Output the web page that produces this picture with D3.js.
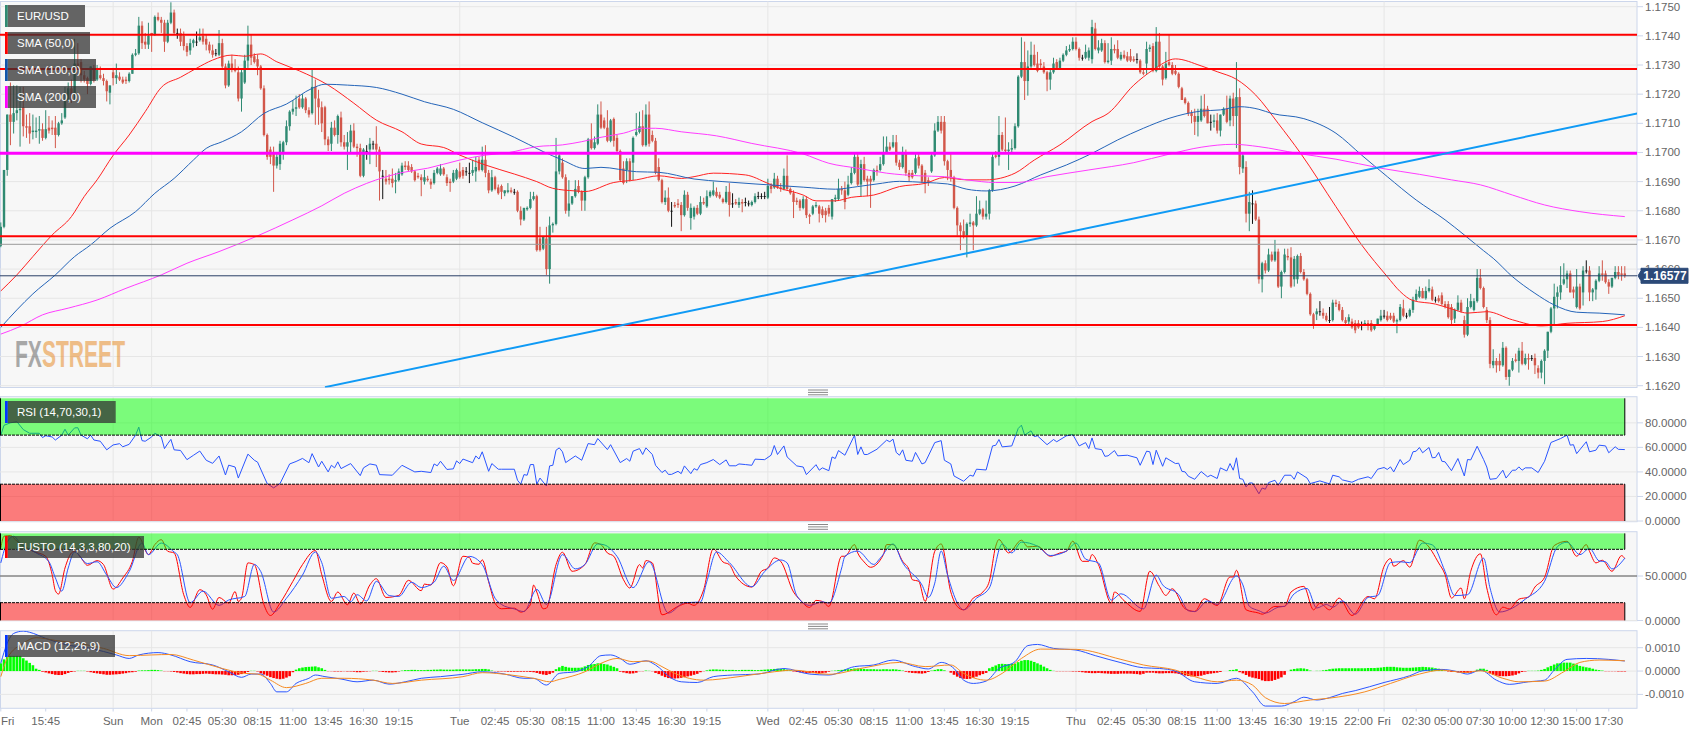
<!DOCTYPE html>
<html><head><meta charset="utf-8">
<script src="https://cdnjs.cloudflare.com/ajax/libs/d3/7.8.5/d3.min.js"></script>
<style>html,body{margin:0;padding:0;background:#fff;overflow:hidden}svg{display:block}text{font-family:"Liberation Sans",Arial,sans-serif}</style>
</head><body><svg id="c" width="1707" height="734"></svg>
<script>
// prices are pips above 1.1600; candles are [open, high, low, close]
const BASE_PRICE = 1.16;
const candlesFriFirst = [[68,76,67.5,74.5],[74.5,94,74,94],[94,113,92,113],[113,124,102.5,110.5],[110.5,123,106.5,113.5],[113.5,123,111,114.5],[114.5,122.5,102,115],[115.5,122.5,105.5,109],[109,113,105,108.5],[109,113.5,103,106.5],[107,113,104.5,107.5],[107,112,105,107.5],[107.5,112.5,103,108],[108,110,104,105],[105,114.5,104.5,108],[108.5,112.5,106.5,107.5],[108.5,111,106,108],[108.5,112.5,101.5,106],[106,110.5,105.5,110],[110,113.5,109.5,111],[112,122.5,111.5,118],[118,124,117.5,122],[122,125,117,118],[120,139,118,130.5],[130.5,137.5,128.5,129],[131,132,124,126.5],[126.5,128,124,125],[125.5,126,120,123.5],[123.5,129.5,123,129.5],[129,130,124,125],[125,130,124.5,129],[126.5,129.5,125,125.5],[125.5,127,123,124.5],[124.5,125,117.5,121],[120.5,123,116.5,123]];
const candlesSun = [[127.5,129,123,125.5],[125.5,130.5,123.5,126.5],[126,127.5,124.5,125],[125,126,123.5,124],[125,126,123.5,124.5],[124.5,127.5,124,127],[127,134,127,133.5],[133.5,135.5,133,134],[134,146.5,133.5,143.5],[143.5,145,135.5,137.5],[138,141,135.5,137],[137,144.5,135.5,140]];
const candlesMon = [[141,141,134.5,140.5],[140.5,147,140,146.5],[146.5,148,145,145.5],[145.5,146.5,141,144.5],[144.5,145.5,134.5,138],[138,145.5,137.5,144.5],[144.5,151.5,144,148],[148,149,140.5,141],[141,142.5,139,141],[141,142.5,136.5,138],[140,141.5,135,136.5],[136.5,137.5,133,134.5],[135,139,133.5,137.5],[137.5,139,136,138.5],[138,141.5,136.5,138],[138.5,142.5,138,139.5],[140,142.5,137,138],[139,140.5,135,137],[137,138,134,135],[135,137,132.5,133.5],[134,135.5,133,134],[133.5,142,133,137.5],[137.5,139,128.5,129.5],[129.5,130.5,122,123],[123,131.5,122.5,130.5],[130.5,133.5,127.5,128.5],[129,132,127.5,128],[127.5,129.5,117.5,118.5],[118.5,128.5,114,127.5],[124,133.5,123.5,131.5],[131.5,143.5,129,137],[137,140.5,130,132.5],[133,134,130.5,131],[132,133.5,126.5,129.5],[129.5,130,121.5,122],[122,123,105.5,106],[106,106.5,97.5,98.5],[101,102,96,98.5],[100,102,86.5,95.5],[95.5,99.5,94.5,98.5],[96,104,94,103],[100,104,97.5,103.5],[103.5,111,102.5,109],[109,114.5,107.5,114],[114,118,113,115],[115,119.5,112.5,115.5],[118.5,120,115,115.5],[115.5,120,115,118.5],[118.5,119,113.5,114.5],[114.5,115.5,112,113],[113.5,128.5,113,122.5],[122.5,125,109.5,118.5],[118.5,121.5,109.5,115.5],[115.5,117.5,107,110],[115.5,116,102.5,104.5],[104.5,105.5,100.5,102.5],[103,110.5,100.5,108.5],[108.5,111,105.5,106],[106,113,103,112.5],[112,114,102,103.5],[103.5,106,101,102],[102,107,94,103.5],[103.5,109.5,100,107.5],[107.5,110,101.5,102],[102,103,98.5,101.5],[101.5,103,91.5,92],[92,101.5,91.5,101],[100.5,102.5,97.5,100.5],[101,105,96,103],[103,104,101,103],[103,109,95,101],[101,102,83.5,93.5],[92,94,84,92],[91,94,89,90],[91,92.5,89,90.5],[91,94.5,88,89.5],[90,93,86,90.5],[90.5,94.5,90,93.5],
[92.5,96.5,92,95.5],[95.5,97,94,95],[95.5,97,93.5,94],[95,96,93,93.5],[93.5,94,90,90.5],[92,93,91,91.5],[91.5,92.5,85,90.5],[90,94,89,91.5],[91,92,90,90.5],[90,91,87.5,89],[89.5,94,89,93],[93,95,92.5,94.5],[92.5,96,92,94.5],[94.5,95,92,92.5],[91.5,92.5,88.5,89.5],[90,91,86.5,89.5],[90,94,89.5,93],[91,94.5,90.5,94]];
const candlesTue = [[93.5,96.5,91,91.5],[94,95,91,92],[93.5,95,92,93.5],[93,96.5,89.5,93],[93,97.5,92,94],[93.5,98.5,90,95],[97.5,98.5,93.5,94],[94,102,93.5,97.5],[97.5,102.5,91.5,93],[93,94,86,87],[87,94,86.5,91.5],[91.5,92,87,87.5],[88,89,85.5,86],[88.5,89,84,86.5],[86,87,85,87],[86.5,89.5,86,87],[87,88,86,86.5],[86.5,87.5,85.5,86.5],[86.5,87,79.5,80],[80,81.5,75,77],[77,81,76.5,81],[80.5,81.5,80,81],[81,86.5,80.5,84],[84,86.5,83.5,85],[85,85.5,66,66.5],[70.5,74.5,66,66.5],[67,71,66.5,71],[70.5,74.5,58,60],[60,78,55,75],[75,76,72.5,75.5],[75.5,105,75,93.5],[93.5,100,92.5,99],[96.5,98,91,91.5],[91.5,92.5,79,80],[80,90.5,78,82.5],[82.5,85,82,85],[85,90.5,84.5,87.5],[88.5,90.5,86,86.5],[86.5,87,80,83.5],[83.5,92,80,91.5],[91.5,105,91,104.5],[104.5,110,101,101.5],[101.5,105.5,101,103.5],[103,116.5,102.5,113],[113,117.5,108,108.5],[111,112,108,108.5],[108.5,114.5,103.5,104],[104,111.5,103.5,111],[111.5,112,102,104],[105,106,100,100.5],[100.5,101,90,90.5],[94.5,97,89,89.5],[94,98,89.5,97],[97,98,90,90.5],[96.5,105.5,90.5,105],[106,113.5,105.5,107],[107,114,106.5,109],[109,114.5,102,102.5],[102.5,116.5,102,113],[113,117.5,102,103],[106,107.5,103.5,104],[104,105,92.5,93],[95,98,90,90.5],[90.5,91,82.5,83],[83,87,82,84.5],[84.5,88,79.5,80],[80,83,74.5,80],[82,83,81,81.5],[82.5,84,81,82],[82,83,73,78.5],[78.5,87,78,85.5],[85.5,86.5,80,81],[77.5,82.5,73.5,81],[78,81.5,77,81],[81,82,78.5,79],[79,85,78.5,83],[83,84.5,82,82.5],[81.5,87,81,85],[85,87,84.5,86.5],[85.5,90,85,87],[86.5,88,84.5,85],[85.5,86.5,84,84.5],[84,84.5,82.5,83],[83,88.5,82.5,86.5],[86.5,89.5,78,82],[82.5,86,81,82.5],[83,84,82,82.5],[82,84.5,81,83],[83,84,79.5,82.5],[83,84.5,81.5,83],[82.5,83.5,81.5,82.5],[82,83.5,81.5,83],[83,86,82.5,85],[85,86.5,84,85],[85,86,84,85],[85,86.5,84,85]];
const candlesWed = [[84.5,91,84,88.5],[88.5,89.5,86,87.5],[88,93,87.5,91],[91,92,87.5,88],[88,89.5,86.5,87.5],[87.5,94.5,87,92],[92,99,87,87.5],[87.5,88,85.5,86],[86,87,77.5,83],[83.5,84.5,82,83],[83.5,84,80,81],
[81,85,80.5,84],[84,85,77.5,78.5],[78.5,79,75.5,78],[79,82,78.5,81.5],[81.5,83,81,82],[81.5,82,76,79],[80.5,81.5,77.5,78.5],[80,81,76,78.5],[81,82,78,79],[78,84,77,84],[84,85.5,83,84.5],[84,91,83.5,87.5],[87.5,88.5,85.5,87],[87,90,80.5,83],[85.5,92,85,89],[89.5,95,89,93],[93,100,92.5,98.5],[98.5,100,88.5,89],[89,97.5,85,96],[96,98.5,90,90.5],[91,92,85,90],[91,92,81,90],[90.5,94.5,90,94],[94,95.5,92,93.5],[94,98.5,93.5,96],[96,105.5,95.5,100],[100,105.5,99.5,102],[102,103.5,100.5,101],[102,106,101.5,103.5],[103.5,106,95.5,96.5],[96.5,97.5,94,95],[95,102,94.5,100],[99.5,101,92,93],[93,94,90,91.5],[93,94,91,91.5],[93,100,92.5,98],[98.5,99.5,94.5,95.5],[95.5,96,89.5,90],[93,94,86,89.5],[90.5,91.5,88.5,89.5],[93.5,100,93,99],[99,110,98.5,107.5],[107.5,112.5,107,110.5],[110.5,112.5,106.5,107.5],[110.5,112.5,95.5,97],[97,97.5,90.5,94],[94,99.5,90,91.5],[91.5,92,80.5,81],[81,81.5,71.5,75],[75,76,66.5,73],[73,77,70.5,71.5],[71.5,76,64,75.5],[75.5,79,74.5,76],[76,76.5,66.5,75],[75,85,74.5,79],[79,83.5,78.5,80.5],[80.5,81,77,78],[78,83.5,77,79],[79,87.5,77,87],[87,100,86.5,98.5],[99,100.5,98,98.5],[98.5,112.5,95.5,106],[106,107,100.5,101],[101,112,100,100.5],[100.5,103.5,94,101],[101,104.5,99.5,101.5],[101.5,110,101,109],[109,126.5,108.5,126],[126,139.5,125.5,131],[131,138,118,124.5],[124.5,135,119.5,129.5],[129.5,138,129,133.5],[133.5,137,129.5,130],[130.5,134.5,127.5,128],[130.5,132,129,130],[129.5,131,127,127.5],[127.5,128,121,125],[125,128.5,121.5,127.5],[127.5,132.5,127,130.5],[131,132,128.5,129],[129,132.5,128.5,131.5],[131.5,134,131,133.5],[133.5,136.5,133,135],[135,137,134.5,135.5],[135.5,139.5,135,138]];
const candlesThu = [[138,139.5,135,135.5],[135.5,136,131.5,132.5],[132.5,133.5,131.5,132.5],[132.5,137,132,134.5],[132.5,136,131.5,135],[132,145.5,130.5,143],[142.5,144.5,135,135.5],[135,138.5,134,136],[135,139,134.5,137.5],[137.5,138.5,130.5,131],[131,137.5,130.5,131.5],[131.5,139.5,130,135.5],[135.5,137,134,135],[135.5,138.5,132,132.5],[132,134.5,131.5,133.5],[133.5,135,132,132.5],[133,134.5,131,131.5],[133,135.5,131,131.5],[132,133,131,131.5],[132,134,130.5,132],[131.5,132,127,127.5],[127.5,128.5,126.5,127],[130.5,138,127,135.5],[135.5,137,134.5,136],[136.5,137.5,127.5,128],[128,143,127.5,138],[138,141,129,129.5],[129.5,130,123,125],[125.5,134.5,125,130.5],[131,140.5,129.5,130],[130,131,126.5,127],[128,130,126.5,127],[127,127.5,122,122.5],[122,122.5,118,118],[118.5,119,116.5,117],[117,117.5,112.5,113.5],[113.5,114.5,110,112.5],[112.5,115,106,110.5],[110.5,115,105.5,112.5],
[111,119.5,110.5,115],[115,120,112,112.5],[115,116,110,110],[110.5,113,107.5,110.5],[110.5,113,108.5,111],[111,113.5,106.5,107.5],[107.5,113,105.5,113],[113,115.5,112.5,115],[115,119.5,110,110.5],[111,119.5,109,118.5],[118.5,120.5,109,112.5],[112.5,131,101.5,119],[119,122,92.5,95],[94.5,99.5,93,99],[95,97,76,79],[79,86.5,73,83],[82.5,87,75.5,82.5],[82.5,83.5,76.5,77],[77,78,55,56.5],[56.5,62.5,52,62],[62,63,58.5,59.5],[59.5,67,59,65],[65,66,62.5,63],[63,70,62.5,66],[66,67,53.5,54],[54,59.5,50,59],[59,67,58.5,65],[64.5,67,63,64],[64,67.5,53.5,54],[56.5,64.5,54,63.5],[56.5,65,55,64.5],[64.5,65.5,58.5,59],[59,60,56,56.5],[56.5,57,51,51.5],[51.5,52,44,44.5],[44.5,45,39.5,41],[44.5,46.5,42.5,45.5],[45.5,49,44,45.5],[45,46.5,43,44],[44,45,42,42.5],[42.5,47,41.5,42.5],[42.5,49.5,42,48.5],[48.5,49.5,47,48],[48,49,45.5,46],[46,47,42,42.5],[42.5,43.5,41,41.5],[42,44.5,41,43.5],[42,43,39.5,40],[41.5,42.5,38,39],[41.5,42.5,39.5,40],[41,42,39,41],[41,42.5,40.5,41.5],[41.5,42.5,39,40.5],[41.5,42.5,38.5,39],[39.5,41,39,41],[41,43,40.5,43],[42.5,46,42,44]];
const candlesFriLast = [[44,46,43,44],[44,45.5,42,42.5],[44,45,42.5,43],[44,45,41.5,42],[42,43,38,42.5],[42.5,48,42,47],[46.5,49.5,43.5,44],[44,45,43,44],[44,46.5,43.5,46],[46,50.5,45,49.5],[49.5,53,49,51.5],[50.5,54,50,52.5],[52.5,53.5,50,50],[50,54,49.5,52.5],[52.5,56.5,52,53.5],[53,54,49,49.5],[49.5,50.5,48.5,49.5],[50,51,48.5,49],[51,52,47.5,48],[48,49,46.5,47],[48,49,43,43.5],[47,48,40.5,42.5],[43,46.5,41.5,46],[46,51,45.5,48.5],[48.5,49.5,45,45.5],[42.5,44,36.5,37.5],[37.5,50,37,47],[47,51.5,46.5,49],[46,50,45.5,49],[49,60,48.5,57],[57,60,53,53.5],[53.5,54,46.5,47],[46,47,41.5,42.5],[42.5,43.5,26,27.5],
[27,32.5,26,28.5],[28.5,29.5,24.5,27],[28.5,31,25,27],[27,35,26.5,33],[33,33.5,22,23],[23,25.5,20,25.5],[25.5,29.5,25,28.5],[29,31,28,28.5],[28.5,33,24.5,32],[32,35,27,27.5],[27.5,31,27,29.5],[29.5,31,25.5,29],[29.5,30.5,28.5,29.5],[29.5,31,24,27],[26,27,22.5,24.5],[24.5,29,22.5,28.5],[28.5,32.5,20.5,32],[32,38.5,29.5,38.5],[38.5,47,38,46.5],[46.5,55,40.5,50.5],[50.5,54,46.5,52],[52,61,49.5,54.5],[55,62,54.5,56.5],[56.5,59.5,53.5,58.5],[58.5,59.5,52,52],[53,54,50,52],[47,60,46.5,54],[54,55,46,46.5],[52,61,47.5,59.5],[59.5,63,58.5,59.5],[59.5,61,49,52],[52,53.5,49,53],[53,56.5,49.5,56],[56,61,55.5,58.5],[58.5,63,56,58],[58.5,59.5,55,55.5],[55.5,56.5,51.5,54],[54,57,53.5,57],[57,61,56.5,59],[59,61,56.5,58],[58.5,61,56,58],[58.5,61,57,57.7]];

// moving averages, trend line and levels: [bar, pips]
const sma50Points = [[0,52.5],[5,58],[10,64.3],[16,71.7],[22,78],[26,84.9],[30,90.6],[35,99],[40,106],[45,114],[50,122.3],[56,125.8],[61,128.9],[66,131.7],[72,133.4],[76,133],[81,133.8],[86,131.1],[93,128],[102,123.1],[110,116.9],[117,111.1],[125,107.1],[131,102.9],[138,101.7],[143,99.1],[151,95.7],[160,92.6],[167,90],[172,87.7],[179,86.8],[182,86.6],[191,89.7],[198,90.6],[205,92],[212,91.1],[216,91.7],[222,92.9],[232,92.3],[239,89.4],[242,88],[250,85.4],[254,83.4],[260,83.4],[265,84.6],[272,85.4],[280,88.3],[288,89.4],[294,91.4],[301,90.6],[307,90.6],[316,92.9],[322,97.4],[330,102.6],[340,110.6],[345,113.4],[353,123.1],[359,128.3],[366,132.1],[374,129.7],[379,127.7],[385,125.1],[391,119.7],[398,110],[405,99.7],[416,81.4],[424,68.3],[432,57.4],[436,52.3],[440,49.2],[447,48],[453,46],[457,44.9],[463,45.4],[471,42.6],[480,40.5],[488,41.4],[499,42],[506,44]];
const sma100Points = [[0,40],[5,46],[10,51.5],[17,58],[23,64.3],[28,68.3],[34,74],[42,79.7],[48,86],[54,91.1],[60,97.4],[64,101.4],[69,103.7],[75,107.1],[82,113.4],[89,116.6],[97,122],[101,123.4],[108,123.1],[117,122.3],[125,120],[132,117.4],[141,114.8],[150,110.2],[160,105.2],[169,100.3],[175,97.4],[182,94.5],[187,94.9],[198,93.4],[205,93.2],[216,90.9],[225,90],[235,89.2],[250,88.1],[260,87.4],[267,88.3],[273,89.2],[280,90.1],[288,89.7],[295,89.2],[301,87.4],[307,86.8],[316,88.5],[324,92.3],[332,95.7],[340,99.7],[348,104.3],[356,108.3],[364,111.7],[374,114.2],[380,114.6],[386,115.7],[392,114.8],[396,113.4],[406,111.6],[416,106.6],[424,99.1],[432,91.7],[441,83.7],[450,76.9],[456,71.7],[462,66.3],[465,63.7],[471,57.4],[478,51.7],[484,47.7],[491,45.2],[498,44.9],[506,44.3]];
const sma200Points = [[0,37.7],[6,40.3],[13,44.3],[21,46.6],[30,49.4],[39,53.4],[50,58],[58,62],[68,66],[80,71.4],[91,76.9],[100,81.7],[107,86],[114,89.4],[125,93.1],[133,94.6],[143,97.4],[151,99.1],[158,99.9],[167,102],[175,102.6],[181,103.7],[187,105.2],[194,106.6],[200,108.3],[204,108.3],[212,107.1],[223,105.7],[234,103.1],[250,99.5],[258,96.3],[267,94.6],[276,92.9],[286,92],[294,91.7],[301,90.6],[310,89.7],[317,89.7],[326,91.7],[339,94],[353,96.5],[364,99.4],[374,101.8],[384,102.8],[392,102],[404,99.7],[416,97.7],[430,94.6],[442,92.5],[452,90.6],[461,88.9],[471,85.4],[481,82],[492,79.7],[506,78]];
const trendBars = [101,510];
const trendPips = [19.5,113.4];
const redLevels = [1.17404,1.17286,1.16713,1.16408];
const magentaLevel = 1.16997;
const greyLevel = 1.16685;
const lastPrice = 1.16577;
const priceTicks = [1.175,1.174,1.173,1.172,1.171,1.17,1.169,1.168,1.167,1.166,1.165,1.164,1.163,1.162];

// RSI [bar, value]
const rsiPoints = [[0,69.9],[1,78],[3,80],[5,81],[7,74.5],[9,71.5],[12,71.5],[13,68],[14,69.5],[16,68.5],[17,66],[19,70],[20,74.8],[21,70],[23,75.9],[24,76],[25,70],[27,67],[28,70],[29,66],[31,65],[33,58],[35,62],[37,63],[38,60.5],[40,62.5],[42,70],[43,76.5],[44,65.5],[45,65],[47,68.5],[48,71.5],[50,68.5],[51,59],[52,63],[53,66.5],[54,58],[56,57.5],[58,50],[60,53.5],[62,57],[64,49.5],[66,47],[68,53],[70,37.5],[71,45.5],[73,44],[74,35],[77,54.5],[79,49.5],[80,48],[83,30.5],[85,27],[87,30.5],[90,46.5],[92,48.5],[94,51],[96,47.5],[97,54.9],[99,44],[100,48.7],[102,40],[103,45.4],[104,43.3],[105,48.2],[106,42.7],[109,46.8],[112,37],[113,43.3],[115,46.5],[117,45.5],[118,37.8],[122,37.3],[125,45.4],[129,40],[131,40.5],[134,39.5],[135,46.5],[136,45],[137,48.7],[139,42],[141,42.5],[142,49],[143,46.8],[144,50.5],[147,47.5],[148,53],[149,50.5],[150,56.4],[152,40.5],[153,46.8],[155,42.2],[156,42.2],[160,42.2],[161,33.2],[162,30],[163,37.8],[164,37.3],[165,46],[166,46],[167,30],[168,35],[170,28.5],[171,44.9],[172,45.4],[173,57.7],[174,59.6],[175,56.4],[176,47.6],[179,53],[181,49.5],[183,63.1],[185,62.2],[186,67.2],[189,58.2],[190,62.2],[193,47.6],[195,50.9],[196,48.7],[197,56.9],[199,59],[200,54.2],[201,59.6],[203,54.2],[204,45.4],[206,39.5],[207,41.4],[208,38],[209,38],[211,40.5],[212,38.6],[213,44.9],[215,38.6],[216,42.7],[217,41.4],[218,46],[220,47.6],[222,50.1],[224,46],[226,49.8],[227,45],[229,45],[230,46.5],[232,46],[234,45.4],[235,50.4],[238,50],[240,53.6],[241,61.5],[242,54.2],[244,61.2],[245,52.2],[248,44.9],[250,44],[251,37.8],[254,45.9],[255,41.4],[256,43.3],[258,41],[259,52.2],[260,50.9],[261,57.4],[263,53.6],[266,69.9],[267,54.2],[268,60.4],[269,54.2],[270,54.2],[273,58.5],[276,65.9],[277,64.6],[278,66.7],[279,55.9],[280,53.6],[281,58],[282,49.5],[284,48.7],[285,55.9],[287,46.5],[288,47.6],[291,63.9],[293,65.5],[294,49.5],[296,46.5],[297,36.7],[300,32.4],[302,37.3],[303,36.5],[304,42.2],[307,41.6],[309,61.2],[310,61.7],[311,66.4],[312,60.4],[315,61.2],[317,75.4],[318,78.1],[319,70],[321,73.5],[322,68.8],[323,69.4],[326,62.2],[328,66.4],[329,64.6],[332,69.4],[334,70.5],[336,61.2],[338,63.9],[339,59],[340,67.7],[341,59],[343,58.2],[344,52.7],[345,53.1],[347,57.4],[348,53.1],[351,53.6],[354,51.5],[355,45.4],[357,56.9],[358,56.4],[359,46],[360,57.7],[362,44.6],[363,51.5],[366,46.8],[367,47.1],[368,40.5],[369,40],[370,36.5],[372,34],[374,40.3],[376,36],[377,37.3],[379,34.6],[380,43.3],[382,40.8],[383,46.8],[384,41.4],[385,51.5],[386,34.6],[387,34],[388,27.8],[389,31],[390,31],[392,22.2],[393,26.9],[394,25.9],[395,31.3],[397,33.2],[398,29],[400,37.3],[402,37.3],[403,34],[404,40],[407,35],[408,30.5],[411,32.7],[414,30.2],[415,37.3],[417,36],[418,33.5],[421,31.6],[423,34],[426,36],[427,34.6],[429,42.2],[431,43.6],[432,42],[433,44.1],[434,40],[436,50.1],[437,46],[439,49.5],[440,56.4],[441,56.9],[442,59.9],[443,55.6],[445,59.9],[446,51.5],[447,51.8],[448,55.9],[449,48.7],[450,48.2],[452,41],[454,50.9],[456,36.7],[457,50.1],[458,49.8],[460,60.9],[462,50.1],[463,44],[464,34],[466,34.6],[468,41.4],[469,35],[471,41.4],[472,41.4],[473,44.1],[474,41.4],[475,43.3],[477,43.3],[479,39.5],[481,48.7],[483,64],[486,67.2],[488,70],[489,61.8],[490,62.2],[491,54.9],[494,64.6],[495,56.4],[497,57.7],[498,61.8],[500,61.2],[501,55.6],[503,60.5],[504,58.4],[506,58.2]];
const rsiTicks = [80,60,40,20,0];

// Full stochastic [bar, value]
const fustoKPoints = [[0,81.6],[1,94.7],[3,95.5],[5,89.1],[10,77.8],[14,72.2],[16,51.5],[17,33.5],[18,29.7],[20,59],[22,75.9],[23,77.8],[25,70.3],[27,62],[30,67.3],[32,62.8],[35,35.3],[38,47.7],[41,66.5],[43,93.6],[46,74.1],[48,85.3],[50,90.8],[52,77.8],[54,75.9],[57,28.9],[59,14.7],[62,34.6],[64,28.9],[66,12.7],[68,25.9],[71,19.5],[73,32.5],[74,21.4],[75,25.2],[77,64.7],[79,62.8],[82,17.7],[84,5.6],[87,19.5],[91,44],[94,62.8],[98,78.6],[100,51.5],[103,21.4],[105,32],[108,17.7],[110,30.8],[112,18.4],[115,40],[117,47],[120,25.9],[124,28.2],[127,45.1],[131,33.5],[132,40.9],[134,39.8],[137,65],[139,60.2],[141,39],[144,72.2],[146,70.8],[147,64.4],[149,63.2],[150,68.2],[152,43.5],[154,19.5],[156,13.2],[160,13.9],[162,9.4],[165,17.7],[166,39.8],[167,32],[169,13.2],[170,13.9],[173,62.8],[175,76.7],[178,55.3],[182,62.8],[185,87.2],[187,85.3],[189,75.9],[191,72.2],[194,45.9],[196,36.5],[199,62.8],[200,59],[201,67.3],[203,64.7],[206,6.4],[211,15.8],[214,19.5],[216,17],[219,34.6],[222,80.5],[225,65.8],[227,62.8],[229,49.6],[234,37.6],[237,55.3],[239,59],[241,70.3],[243,66.5],[247,32],[249,23.3],[252,14.7],[254,22.6],[256,21.4],[258,15.8],[262,72.2],[263,72.2],[266,85.3],[267,75.9],[269,65.8],[271,59.8],[275,74.1],[276,85.3],[278,85.3],[281,66.5],[283,57.1],[284,45.9],[286,44],[288,21.4],[291,77.8],[293,86],[296,32],[298,15.8],[300,12],[303,25.2],[306,32],[308,44],[310,83.5],[311,91],[314,75.9],[318,90.2],[320,82.7],[323,83.5],[327,72.2],[330,75.9],[332,77.8],[334,89.1],[337,66.5],[339,66.5],[340,74.1],[342,62.8],[346,19.5],[347,32],[350,22.2],[355,10.2],[358,55.3],[361,38.3],[363,28.2],[365,35.7],[369,13.2],[372,10.2],[375,24.4],[379,16.9],[383,48.9],[384,48.9],[385,56.4],[388,12],[392,8.3],[393,7.1],[397,15.8],[400,15.8],[402,32],[406,38.3],[409,12],[411,19.5],[414,12],[417,25.2],[421,5.6],[426,27],[428,24.4],[431,60.9],[433,69.5],[434,60.9],[437,67.3],[439,60],[442,90.2],[444,86.5],[448,64.7],[450,51.5],[452,25.2],[455,36.5],[456,24.4],[458,55.3],[461,74.9],[463,36.5],[466,6.4],[468,15],[470,13],[473,24],[476,26.3],[478,37.6],[481,48.5],[484,84.2],[488,89],[491,72.2],[494,85.3],[495,77.8],[497,64.7],[499,67.7],[502,55.3],[505,72.9],[506,69.5]];
const fustoDPoints = [[0,64.7],[2,88],[4,94.7],[6,87],[11,76],[15,66],[17,48],[19,33],[21,59],[23,77],[27,64],[30,66],[33,51],[36,37],[40,55],[44,87],[46,74],[50,87],[54,77],[55,74],[59,20],[63,33],[68,17],[71,23],[76,27],[79,63],[81,55],[85,9.5],[89,25],[94,51],[98,77],[100,65],[103,25],[107,27],[109,21],[111,29],[114,22],[117,44],[121,28],[124,27],[128,43],[131,37],[135,43],[138,61],[141,45],[146,72],[150,63],[154,25],[156,18],[160,13],[163,10],[167,35],[170,18],[175,74],[179,58],[182,63],[186,86],[188,85],[192,72],[197,37],[202,66],[208,8.3],[213,20],[218,20.7],[220,44],[223,77],[227,65],[234,38],[238,55],[243,68],[245,64.7],[248,28],[252,17],[256,21],[258,19.5],[262,59],[263,72],[267,78],[272,63],[274,70],[278,86],[281,65],[287,40],[289,26],[291,42],[293,78],[295,51],[298,20],[300,12],[304,25],[308,36.5],[312,86],[315,76],[318,88],[323,83.5],[327,73],[332,78],[335,87],[338,69],[342,64.7],[346,23],[349,30],[356,13],[360,51],[362,40],[367,29],[370,11],[372,10],[376,22],[379,18],[385,50],[387,40],[389,16],[392,11],[394,8.3],[398,15],[400,16],[403,30],[407,36],[410,14],[413,18],[415,15],[418,22],[422,7],[426,26],[429,28],[433,65],[436,66],[439,65],[443,87],[446,85],[450,55],[453,28],[457,29],[462,70],[464,36.5],[467,9.5],[471,14],[475,24],[481,44],[485,83],[488,88],[492,74],[495,81],[498,67],[500,66],[502,58],[506,70]];

// MACD, in units of 0.0001: lines are [bar, value]
const macdPoints = [[0,3.3],[2,11.9],[4,16.1],[7,17.1],[9,16.6],[14,14],[20,11.4],[28,9.7],[36,6.9],[40,5.4],[43,6.9],[49,7.9],[53,6.9],[59,4],[66,2.6],[71,-.3],[75,-2.7],[78,-1.3],[81,-1.3],[84,-5.3],[86,-8.9],[89,-8.9],[92,-5.3],[96,-3.1],[98,-1.7],[101,-2.4],[106,-3.4],[111,-4.6],[116,-3.9],[121,-5.6],[126,-4.6],[131,-3.1],[137,-2.4],[144,-1.4],[150,-.3],[157,-1.3],[163,-3.1],[166,-3.1],[170,-6],[174,-1],[179,-.3],[183,1.9],[187,6.6],[190,6.9],[193,5.4],[196,2.9],[201,4.4],[204,2.6],[209,-3.1],[212,-4.6],[217,-4.9],[222,-2.4],[228,-1.7],[236,-1.3],[244,1.1],[252,-1.3],[258,-1.7],[266,1.9],[272,2.6],[278,4.7],[285,1.9],[289,.9],[293,3.7],[297,1.1],[300,-3.9],[303,-5.3],[307,-4.3],[311,1.1],[316,4],[320,10.9],[323,11.4],[328,9.7],[335,9],[341,6.6],[349,3.6],[356,1.4],[361,1.1],[366,0],[372,-4.6],[379,-5.3],[385,-3.1],[390,-8.9],[394,-15],[399,-15],[403,-13.1],[406,-11.2],[410,-12.4],[414,-11.4],[418,-9.6],[422,-8.4],[431,-4.9],[439,-2],[443,.1],[449,.7],[454,-.3],[457,-1.3],[461,.4],[466,-3.9],[470,-5.7],[476,-4.6],[481,-3.9],[484,.4],[488,5],[494,5.4],[501,5],[506,4.3]];
const macdSignalPoints = [[0,-2.4],[2,5.4],[7,11.9],[11,14.3],[17,13.1],[24,11.9],[32,9.7],[40,6.6],[47,6.9],[53,7.1],[60,4.7],[69,1.1],[76,-1],[80,-1.3],[84,-3.9],[89,-7.1],[95,-5.3],[100,-3.1],[107,-3.1],[116,-3.9],[122,-5.3],[131,-3.9],[144,-2.4],[150,-.7],[159,-1.7],[167,-3.4],[171,-4.6],[174,-3.6],[182,-.3],[187,3.3],[192,5.4],[197,4],[202,4.3],[206,1.9],[210,-1],[219,-3.9],[230,-2.4],[241,-.3],[247,.4],[258,-1.4],[269,1.4],[280,3.7],[288,1.9],[296,2.6],[300,-1],[307,-3.9],[312,-1],[318,5.4],[324,9.4],[335,9.3],[349,5],[356,2.6],[366,.4],[372,-2.4],[379,-4.6],[385,-3.9],[390,-6],[394,-11.4],[400,-13.9],[408,-12.4],[414,-11.6],[425,-8.9],[433,-5.3],[442,-1.3],[449,.4],[456,-.6],[461,.1],[468,-3.1],[473,-4.6],[481,-4.3],[487,-.3],[492,3.7],[498,4.7],[506,4.4]];
const macdHist = [3.3,5,6,6.5,6.5,6.5,6.5,5.5,4.5,3.5,
2.5,1,.5,-.3,-.6,-1,-1.3,-1.6,-1.7,-1.7,
-1.3,-.8,-.4,-.2,.1,.1,.1,-.2,-.5,-.8,
-1,-1.2,-1.4,-1.6,-1.6,-1.5,-1.4,-1.3,-1.1,-.9,
-.6,-.5,-.3,.2,.3,.3,.4,.5,.5,.4,
.2,-.1,-.1,-.2,-.4,-.6,-.9,-1.1,-1.3,-1.4,
-1.4,-1.3,-1.3,-1.2,-1.1,-1.2,-1.3,-1.4,-1.4,-1.5,
-1.6,-1.8,-1.8,-1.7,-1.6,-1.3,-.9,-.4,.1,.1,
-.2,-1,-1.5,-2,-2.6,-3,-3.3,-3.5,-3.3,-2.8,
-2.2,-.5,.6,1.2,1.5,1.7,1.8,1.9,2,1.6,
1.2,.5,-.1,-.1,-.2,-.2,-.2,-.1,-.2,-.2,
-.3,-.5,-.5,-.3,-.2,-.1,.1,.1,-.2,-.4,
-.5,-.6,-.6,-.5,-.2,.2,.4,.4,.5,.5,
.4,.4,.4,.5,.5,.6,.6,.7,.6,.6,
.6,.6,.7,.7,.7,.7,.7,.7,.8,.8,
.9,.9,.7,.2,-.1,-.2,-.2,-.2,-.3,-.3,
-.3,-.3,-.3,-.3,-.3,-.4,-.5,-.8,-1.2,-1.5,
-1.7,-1.3,-.7,.8,1.6,2.2,1.8,1.5,1.4,1.4,
1.4,1.5,2,2.6,2.9,3,3.3,3.3,3,2.8,
2.3,1.8,1.2,-.3,-.6,-.9,-1.1,-1,-.7,-.1,
-.1,.2,.1,-.1,-.8,-1.3,-2,-2.6,-3,-3.2,
-3.2,-3.1,-2.9,-2.6,-2.3,-2,-1.6,-1.2,-.5,-.1,
.3,.6,.7,.7,.6,.6,.5,.5,.5,.4,
.4,.5,.5,.5,.5,.4,.4,.5,.6,.7,
.8,.9,1,.9,.8,.6,.3,-.2,-.4,-.6,
-.7,-.8,-.9,-.9,-.9,-.9,-.8,-.7,-.3,.1,
.2,.4,.5,.7,.8,.9,1.1,1.1,1,.9,
.8,.8,.8,.7,.7,.8,.8,.7,.8,.7,
.5,.2,-.3,-.6,-.8,-.9,-1,-1.1,-.9,-.4,
.2,.5,.8,.8,.3,0,-.7,-1.6,-2.4,-3,
-3.3,-3.4,-3.3,-2.9,-2.4,-1.8,-1.3,-.8,1.2,1.8,
2.4,3,3.1,3,3,3.1,3.2,3.8,4.4,4.7,
4.7,4.4,3.9,3.3,2.7,1.9,1.2,.5,.1,-.1,
-.1,-.1,-.1,-.1,-.2,-.2,-.3,-.5,-.7,-.8,
-.9,-.9,-.8,-.9,-1,-1.1,-1.2,-1.2,-1.2,-1.1,
-1.1,-1.1,-1.1,-1.2,-1.3,-1.5,-1.2,-.7,-.7,-.7,
-.9,-1,-1,-.9,-.9,-.9,-1,-1.2,-1.6,-1.9,
-2.1,-2.3,-2.3,-2.2,-2,-1.6,-1.3,-1.1,-.9,-.7,
-.4,0,0,.4,.5,.8,-.5,-1,-1.7,-2.4,
-2.8,-3.1,-3.4,-4,-4.3,-4.3,-4.2,-3.8,-3.3,-2.7,
-1.6,0,.6,.9,1.1,1.2,1.1,.8,.2,0,
.1,.1,.3,.5,.8,1,1.1,1.2,1.2,1.2,
1.2,1.2,1.2,1.2,1.2,1.2,1.3,1.3,1.3,1.4,
1.5,1.7,1.8,1.8,1.8,1.6,1.5,1.4,1.4,1.4,
1.5,1.6,1.7,1.8,1.7,1.6,1.5,1.2,1,.6,
.2,-.2,-.4,-.4,-.6,-.7,-.8,-.8,-.7,-.2,
.6,1,1,.5,-1,-1.6,-2,-2.2,-2.2,-2.2,
-2.1,-1.9,-1.6,-1,-.4,-.2,.1,.1,.1,.2,
.5,.9,1.6,2.2,2.8,3.3,3.4,3.6,3.6,3.6,
3.2,2.8,2.2,1.9,1.6,1.4,1,.6,.4,.2,
-.1,-.1,-.1,-.1,-.2,-.2,-.2];
const macdTicks = [0.001,0,-0.001];

// time axis
const dayBars = [35,47,143,239,335,431];
const timeTickBars = [0,14,35,47,58,69,80,91,102,113,124,143,154,165,176,187,198,209,220,239,250,261,272,283,294,305,316,335,346,357,368,379,390,401,412,423,431,441,451,461,471,481,491,501];
const timeTickLabels = ["Fri","15:45","Sun","Mon","02:45","05:30","08:15","11:00","13:45","16:30","19:15","Tue","02:45","05:30","08:15","11:00","13:45","16:30","19:15","Wed","02:45","05:30","08:15","11:00","13:45","16:30","19:15","Thu","02:45","05:30","08:15","11:00","13:45","16:30","19:15","22:00","Fri","02:30","05:00","07:30","10:00","12:30","15:00","17:30"];
const mainLegends = ["EUR/USD","SMA (50,0)","SMA (100,0)","SMA (200,0)"];

// ---------- drawing ----------
const candles = [...candlesFriFirst,...candlesSun,...candlesMon,...candlesTue,...candlesWed,...candlesThu,...candlesFriLast];
const svg = d3.select("#c");
const WIDTH_PLOT = 1637, LAST_X = 1624.8;
const x = d3.scaleLinear().domain([0,506]).range([0.8,LAST_X]);
const price = p => BASE_PRICE + p*1e-4;
const panel = {main:[1.5,387.5],rsi:[396.7,521.7],fusto:[531.7,620.7],macd:[630.7,708.3]};
const yMain = d3.scaleLinear().domain([1.162,1.175]).range([385.7,6.7]);
const yRsi = d3.scaleLinear().domain([0,100]).range([521,398.3]);
const yFusto = d3.scaleLinear().domain([0,100]).range([620.5,531.5]);
const yMacd = d3.scaleLinear().domain([-0.001,0.001]).range([694.4,647.7]);
const GRID="#e6e6e6", BORDER="#ccd6eb", LABEL="#666666";

Object.entries(panel).forEach(([k,[t,b]])=>{
  svg.append("rect").attr("x",0.5).attr("y",t).attr("width",WIDTH_PLOT-0.5).attr("height",b-t).attr("fill","#f7f7f7").attr("stroke",BORDER).attr("stroke-width",1);
  svg.append("clipPath").attr("id","clip-"+k).append("rect").attr("x",0).attr("y",t).attr("width",WIDTH_PLOT).attr("height",b-t);
  svg.append("g").selectAll("line").data(dayBars).join("line").attr("x1",d=>x(d)).attr("x2",d=>x(d)).attr("y1",t).attr("y2",b).attr("stroke",GRID);
});
function axis(ticks,scale,fmt){
  const g = svg.append("g");
  g.selectAll("line.g").data(ticks).join("line").attr("class","g").attr("x1",0).attr("x2",WIDTH_PLOT).attr("y1",d=>scale(d)).attr("y2",d=>scale(d)).attr("stroke",GRID);
  g.selectAll("line.t").data(ticks).join("line").attr("class","t").attr("x1",WIDTH_PLOT).attr("x2",WIDTH_PLOT+6).attr("y1",d=>scale(d)).attr("y2",d=>scale(d)).attr("stroke",BORDER);
  g.selectAll("text").data(ticks).join("text").attr("x",WIDTH_PLOT+8).attr("y",d=>scale(d)+4).attr("fill",LABEL).attr("font-size",11.5).text(fmt);
}
axis(priceTicks,yMain,d=>d.toFixed(4));
axis(rsiTicks,yRsi,d=>d.toFixed(4));
axis([50,0],yFusto,d=>d.toFixed(4));
axis(macdTicks,yMacd,d=>d.toFixed(4));

// time axis
svg.append("g").selectAll("line").data(timeTickBars).join("line").attr("x1",d=>x(d)).attr("x2",d=>x(d)).attr("y1",708.3).attr("y2",711.5).attr("stroke",BORDER);
svg.append("g").selectAll("text").data(timeTickBars).join("text").attr("x",(d,i)=>i==0?1:x(d)).attr("y",725).attr("text-anchor",(d,i)=>i==0?"start":"middle").attr("fill",LABEL).attr("font-size",11.5).text((d,i)=>timeTickLabels[i]);

// watermark
const wm = svg.append("text").attr("x",15).attr("y",367).attr("opacity",.55).attr("font-weight","bold").attr("font-size",36).attr("textLength",110).attr("lengthAdjust","spacingAndGlyphs").attr("style",'font-family:"Liberation Sans Narrow","Liberation Sans",sans-serif');
wm.append("tspan").attr("fill","#666").text("FX");
wm.append("tspan").attr("fill","#e88e2c").text("STREET");

// candles
const gMain = svg.append("g").attr("clip-path","url(#clip-main)");
const UP="#2f8a72", DOWN="#d2574a";
const col = d => d[0]===d[3] ? "#111" : (d[3]>d[0]?UP:DOWN);
gMain.append("g").selectAll("line").data(candles).join("line")
  .attr("x1",(d,i)=>x(i)).attr("x2",(d,i)=>x(i))
  .attr("y1",d=>yMain(price(d[1]))).attr("y2",d=>yMain(price(d[2])))
  .attr("stroke",col).attr("stroke-width",1);
gMain.append("g").selectAll("rect").data(candles).join("rect")
  .attr("x",(d,i)=>x(i)-1.2).attr("width",2.4)
  .attr("y",d=>yMain(price(Math.max(d[0],d[3])))).attr("height",d=>Math.max(0.8,Math.abs(yMain(price(d[0]))-yMain(price(d[3])))))
  .attr("fill",col);

// moving averages
const mainLine = d3.line().x(d=>x(d[0])).y(d=>yMain(price(d[1]))).curve(d3.curveMonotoneX);
const addMain=(pts,c,w)=>gMain.append("path").attr("d",mainLine(pts)).attr("fill","none").attr("stroke",c).attr("stroke-width",w);
addMain(sma50Points,"#ff2222",1);
addMain(sma100Points,"#2464b8",1);
addMain(sma200Points,"#ff3cff",1);

// levels
gMain.selectAll("line.lvl").data(redLevels).join("line").attr("class","lvl").attr("x1",0).attr("x2",WIDTH_PLOT).attr("y1",d=>yMain(d)).attr("y2",d=>yMain(d)).attr("stroke","#ff0000").attr("stroke-width",2);
gMain.append("line").attr("x1",0).attr("x2",WIDTH_PLOT).attr("y1",yMain(magentaLevel)).attr("y2",yMain(magentaLevel)).attr("stroke","#ff00ff").attr("stroke-width",3);
gMain.append("line").attr("x1",0).attr("x2",WIDTH_PLOT).attr("y1",yMain(greyLevel)).attr("y2",yMain(greyLevel)).attr("stroke","#999").attr("stroke-width",1);
gMain.append("line").attr("x1",0).attr("x2",WIDTH_PLOT).attr("y1",yMain(lastPrice)).attr("y2",yMain(lastPrice)).attr("stroke","#2a3f66").attr("stroke-width",1);
gMain.append("line").attr("x1",x(trendBars[0])).attr("x2",x(trendBars[1])).attr("y1",yMain(price(trendPips[0]))).attr("y2",yMain(price(trendPips[1]))).attr("stroke","#0f9af5").attr("stroke-width",2);

// last price tag
const tagY = yMain(lastPrice);
svg.append("path").attr("d",`M${WIDTH_PLOT+1},${tagY} l3,-5 v-2.5 h47 v15 h-47 v-2.5 z`).attr("fill","#2c4a78").attr("stroke","#2c4a78");
svg.append("text").attr("x",WIDTH_PLOT+28).attr("y",tagY+4.5).attr("text-anchor","middle").attr("fill","#fff").attr("font-weight","bold").attr("font-size",12).text(lastPrice.toFixed(5));

// RSI
const gRsi = svg.append("g").attr("clip-path","url(#clip-rsi)");
const lineOf = sc => d3.line().x(d=>x(d[0])).y(d=>sc(d[1]));
const smoothOf = sc => d3.line().x(d=>x(d[0])).y(d=>sc(d[1])).curve(d3.curveMonotoneX);
gRsi.append("path").attr("d",lineOf(yRsi)(rsiPoints)).attr("fill","none").attr("stroke","#2a55ff").attr("stroke-width",1);
function bands(g,sc,hi,lo,top,bot){
  g.append("rect").attr("x",0).attr("width",LAST_X).attr("y",top).attr("height",sc(hi)-top).attr("fill","#00ff00").attr("opacity",.5);
  g.append("rect").attr("x",0).attr("width",LAST_X).attr("y",sc(lo)).attr("height",bot-sc(lo)).attr("fill","#ff0000").attr("opacity",.5);
  [hi,lo].forEach(v=>g.append("line").attr("x1",0).attr("x2",LAST_X).attr("y1",sc(v)).attr("y2",sc(v)).attr("stroke","#000").attr("stroke-dasharray","3,1").attr("stroke-width",1));
  g.append("line").attr("x1",LAST_X).attr("x2",LAST_X).attr("y1",top).attr("y2",sc(hi)).attr("stroke","#000");
  g.append("line").attr("x1",LAST_X).attr("x2",LAST_X).attr("y1",sc(lo)).attr("y2",bot).attr("stroke","#000");
  g.append("line").attr("x1",0.5).attr("x2",0.5).attr("y1",sc(lo)).attr("y2",bot).attr("stroke","#000");
  g.append("line").attr("x1",0.5).attr("x2",0.5).attr("y1",top).attr("y2",sc(hi)).attr("stroke","#000");
}
bands(gRsi,yRsi,70,30,398.3,521);

// FUSTO
const gFusto = svg.append("g").attr("clip-path","url(#clip-fusto)");
gFusto.append("line").attr("x1",0).attr("x2",WIDTH_PLOT).attr("y1",yFusto(50)).attr("y2",yFusto(50)).attr("stroke","#555").attr("stroke-width",1);
gFusto.append("path").attr("d",smoothOf(yFusto)(fustoKPoints)).attr("fill","none").attr("stroke","#ff0000").attr("stroke-width",1);
gFusto.append("path").attr("d",smoothOf(yFusto)(fustoDPoints)).attr("fill","none").attr("stroke","#2a55ff").attr("stroke-width",1);
bands(gFusto,yFusto,80,20,533.4,620.5);

// MACD
const gMacd = svg.append("g").attr("clip-path","url(#clip-macd)");
const macdVal = v => v*1e-4;
gMacd.append("g").selectAll("rect").data(macdHist).join("rect")
  .attr("x",(d,i)=>x(i)-1.3).attr("width",2.6)
  .attr("y",d=>Math.min(yMacd(0),yMacd(macdVal(d)))).attr("height",d=>Math.abs(yMacd(0)-yMacd(macdVal(d))))
  .attr("fill",d=>d>=0?"#00ff00":"#ff0000");
const macdLine = d3.line().x(d=>x(d[0])).y(d=>yMacd(macdVal(d[1]))).curve(d3.curveMonotoneX);
gMacd.append("path").attr("d",macdLine(macdPoints)).attr("fill","none").attr("stroke","#2a55ff").attr("stroke-width",1);
gMacd.append("path").attr("d",macdLine(macdSignalPoints)).attr("fill","none").attr("stroke","#f58a22").attr("stroke-width",1);

// grips
[390,524.5,624].forEach(y=>[0,2.4,4.8].forEach(o=>svg.append("line").attr("x1",808).attr("x2",828).attr("y1",y+o).attr("y2",y+o).attr("stroke","#888").attr("stroke-width",1)));

// legends
function legend(txt,y,right,strip){
  const g = svg.append("g");
  g.append("rect").attr("x",7.5).attr("y",y).attr("width",right-7.5).attr("height",22).attr("fill","#333").attr("opacity",.75);
  g.append("rect").attr("x",5).attr("y",y).attr("width",2.7).attr("height",22).attr("fill",strip);
  g.append("text").attr("x",17).attr("y",y+15).attr("fill","#fff").attr("font-size",11.5).text(txt);
}
legend(mainLegends[0],5,85,"#2f8a72");
legend(mainLegends[1],32,90,"#ff0000");
legend(mainLegends[2],59,96,"#1155aa");
legend(mainLegends[3],86,96,"#ff00ff");
legend("RSI (14,70,30,1)",401,115.7,"#0033ff");
legend("FUSTO (14,3,3,80,20)",536,144,"#ff0000");
legend("MACD (12,26,9)",635,115,"#0033ff");
</script></body></html>
